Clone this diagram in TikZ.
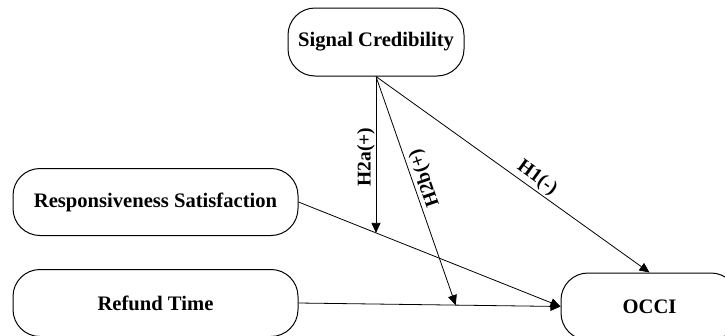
\documentclass[tikz,border=0pt]{standalone}
\usepackage{fontspec}
\setmainfont{Liberation Serif}
\usetikzlibrary{arrows.meta,calc}
\begin{document}
\begin{tikzpicture}[x=1pt,y=-1pt,
  box/.style={draw,line width=1pt,rounded corners=27pt,font=\fontsize{20.6}{24}\selectfont\bfseries,align=center,inner sep=0pt},
  conn/.style={line width=0.8pt,-{Triangle[length=10pt,width=9pt]}},
  lbl/.style={font=\fontsize{19.5}{22}\selectfont\bfseries,inner sep=1pt}]
\useasboundingbox (0,0) rectangle (725,335);
\clip (0,0) rectangle (725,335);
\node[box,minimum width=176pt,minimum height=68pt] (sc) at (376,42) {Signal Credibility};
\node[box,minimum width=285pt,minimum height=67pt] (rs) at (155.5,202) {Responsiveness Satisfaction};
\node[box,minimum width=285pt,minimum height=67pt] (rt) at (155.5,303) {Refund Time};
\node[box,minimum width=177pt,minimum height=67pt] (occi) at (649.5,306.5) {OCCI};
\draw[conn] (rs.east) -- (occi.west);
\draw[conn] (rt.east) -- (occi.west);
\coordinate (vbot) at (sc.south |- occi.south);
\coordinate (h2atip) at (intersection of sc.south--vbot and rs.east--occi.west);
\coordinate (h2btip) at ($(rt.east)!0.6!(occi.west)$);
\draw[conn] (sc.south) -- (h2atip);
\draw[conn] (sc.south) -- (h2btip);
\draw[conn] (sc.south) -- (occi.north);
\node[lbl,rotate=90] (l2a) at (366,157) {H2a(+)};
\node[lbl,rotate=109] (l2b) at (425,178) {H2b(+)};
\node[lbl,rotate=-36] (l1) at (537,178) {H1(-)};
\end{tikzpicture}
\end{document}
